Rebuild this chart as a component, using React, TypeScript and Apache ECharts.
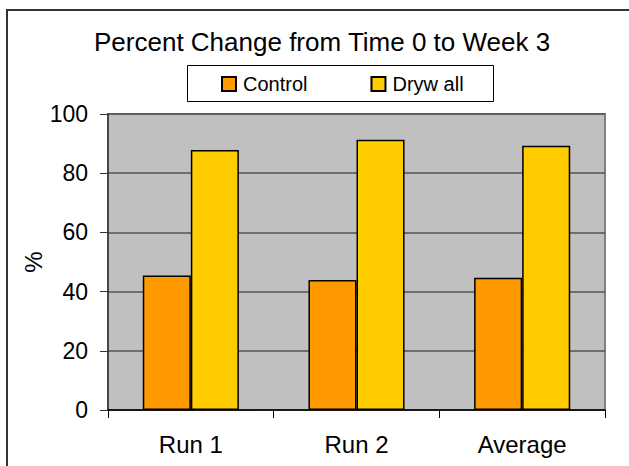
import React, { useEffect, useRef } from "react";
import * as echarts from "echarts";

const categories = ["Run 1", "Run 2", "Average"];
const controlValues = [45.4, 43.9, 44.7];
const drywallValues = [87.8, 91.3, 89.3];
const seriesNames = ["Control", "Dryw all"];
const titleText = "Percent Change from Time 0 to Week 3";
const yAxisName = "%";

export default function App() {
  const ref = useRef<HTMLDivElement>(null);
  useEffect(() => {
    document.body.style.margin = "0";
    const chart = echarts.init(ref.current!, null, { renderer: "svg" });
    const font = "Liberation Sans, Arial, sans-serif";
    chart.setOption({
      animation: false,
      backgroundColor: "#fff",
      textStyle: { fontFamily: font },
      title: {
        text: titleText,
        left: 94,
        top: 29,
        padding: 0,
        textStyle: { fontFamily: font, fontSize: 26, fontWeight: "normal", color: "#000" },
      },
      graphic: [
        { type: "line", shape: { x1: 6, y1: 10, x2: 629, y2: 10 }, style: { stroke: "#333", lineWidth: 2 } },
        { type: "line", shape: { x1: 7, y1: 10, x2: 7, y2: 466 }, style: { stroke: "#333", lineWidth: 2 } },
        { type: "rect", shape: { x: 187.5, y: 65.5, width: 306, height: 36 }, style: { fill: "#fff", stroke: "#000", lineWidth: 1 }, z: -1 },
      ],
      legend: {
        left: 221,
        top: 74,
        padding: 0,
        itemWidth: 14,
        itemHeight: 14,
        itemGap: 63,
        icon: "rect",
        textStyle: { fontFamily: font, fontSize: 20, color: "#000", padding: [0, 0, 0, 2] },
        data: seriesNames,
      },
      grid: {
        left: 108,
        top: 114,
        right: 24,
        bottom: 56,
        show: true,
        backgroundColor: "#C0C0C0",
        borderColor: "#808080",
        borderWidth: 2,
      },
      xAxis: {
        type: "category",
        data: categories,
        axisLine: { lineStyle: { color: "#000", width: 1.5 } },
        axisTick: { show: true, length: 8, interval: 0, lineStyle: { color: "#000" } },
        axisLabel: { fontFamily: font, fontSize: 24, color: "#000", margin: 22 },
      },
      yAxis: {
        type: "value",
        min: 0,
        max: 100,
        interval: 20,
        name: yAxisName,
        nameLocation: "middle",
        nameGap: 63,
        nameMoveOverlap: false,
        nameRotate: 90,
        nameTextStyle: { fontFamily: font, fontSize: 24, color: "#000" },
        axisLine: { show: true, lineStyle: { color: "#333", width: 1.5 } },
        axisTick: { show: true, length: 8, lineStyle: { color: "#333" } },
        axisLabel: { fontFamily: font, fontSize: 23, color: "#000", margin: 20 },
        splitLine: { show: true, lineStyle: { color: "#555", width: 1.5 } },
      },
      series: [
        {
          name: seriesNames[0],
          type: "bar",
          data: controlValues,
          barGap: "0%",
          barCategoryGap: "42%",
          itemStyle: { color: "#FF9900", borderColor: "#000", borderWidth: 1.5 },
        },
        {
          name: seriesNames[1],
          type: "bar",
          data: drywallValues,
          barGap: "0%",
          barCategoryGap: "42%",
          itemStyle: { color: "#FFCC00", borderColor: "#000", borderWidth: 1.5 },
        },
      ],
    });
    return () => chart.dispose();
  }, []);
  return <div ref={ref} style={{ width: 629, height: 466 }} />;
}
